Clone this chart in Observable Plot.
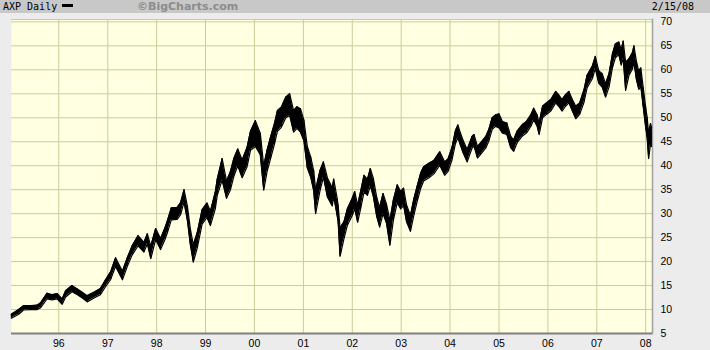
<!DOCTYPE html>
<html><head><meta charset="utf-8">
<script src="https://cdn.jsdelivr.net/npm/d3@7"></script>
<script src="https://cdn.jsdelivr.net/npm/@observablehq/plot@0.6"></script>
<style>
body{margin:0;background:#ececec;width:710px;height:350px;overflow:hidden}
#hdr{position:relative;height:13px;background:#c8c8c8;}
#hdr span{position:absolute;top:0;line-height:13px;white-space:nowrap}
#t1{left:3px;font-family:"DejaVu Sans Mono",monospace;font-size:10px;color:#000}
#sw{left:62px;top:4px !important;width:11px;height:3px;background:#000}
#bc{left:137px;font-family:"DejaVu Sans",sans-serif;font-weight:bold;font-size:11px;color:#8c8c8c}
#dt{right:16px;font-family:"DejaVu Sans Mono",monospace;font-size:10px;color:#000}
#chart svg{display:block}
</style></head><body>
<div id="hdr"><span id="t1">AXP Daily</span><span id="sw"></span><span id="bc">©BigCharts.com</span><span id="dt">2/15/08</span></div>
<div id="chart"></div>
<script>
const years = [
1995.03,1995.18,1995.28,1995.42,1995.56,1995.63,1995.76,1995.86,1995.97,
1996.07,1996.14,1996.27,1996.38,1996.48,1996.58,1996.72,1996.85,1996.95,
1997.06,1997.16,1997.30,1997.40,1997.50,1997.62,1997.74,1997.81,1997.88,1997.98,
1998.08,1998.17,1998.22,1998.30,1998.42,1998.49,1998.56,1998.63,1998.69,1998.75,1998.83,1998.93,
1999.03,1999.10,1999.20,1999.24,1999.34,1999.43,1999.51,1999.58,1999.66,1999.75,1999.85,1999.92,
2000.02,2000.12,2000.19,2000.26,2000.33,2000.41,2000.47,2000.55,2000.64,2000.72,2000.80,2000.87,2000.94,
2001.01,2001.08,2001.15,2001.21,2001.25,2001.34,2001.41,2001.49,2001.59,2001.62,2001.69,2001.71,2001.75,2001.83,2001.90,
2002.00,2002.05,2002.11,2002.17,2002.24,2002.31,2002.37,2002.43,2002.50,2002.56,2002.63,2002.70,2002.77,2002.84,2002.92,2002.99,
2003.05,2003.11,2003.19,2003.26,2003.33,2003.40,2003.46,2003.57,2003.67,2003.79,2003.89,2003.96,
2004.04,2004.11,2004.16,2004.21,2004.27,2004.35,2004.45,2004.49,2004.56,2004.62,2004.73,2004.79,2004.86,2004.93,
2005.00,2005.07,2005.16,2005.24,2005.30,2005.37,2005.48,2005.56,2005.65,2005.71,2005.78,2005.82,2005.89,2005.97,
2006.06,2006.16,2006.22,2006.29,2006.36,2006.43,2006.50,2006.57,2006.65,2006.74,2006.80,2006.91,2006.97,
2007.04,2007.11,2007.18,2007.25,2007.32,2007.38,2007.45,2007.50,2007.54,2007.59,2007.66,2007.73,2007.76,2007.81,2007.86,2007.90,2007.95,
2008.00,2008.03,2008.06,2008.10,2008.12];
const mid = [
8.6,9.5,10.3,10.4,10.4,10.9,12.8,12.5,12.8,
11.6,13.3,14.4,13.7,13.0,12.3,13.0,13.7,15.4,
17.1,19.9,17.1,19.9,22.4,24.4,23.0,24.8,22.2,25.8,
23.6,25.8,27.2,30.0,30.0,31.0,33.8,30.0,25.1,21.7,24.4,29.3,
30.7,29.0,32.8,35.5,39.0,34.9,36.9,39.7,41.8,39.4,41.8,45.3,
46.3,44.6,37.6,41.1,43.9,46.7,49.4,50.1,52.2,52.9,49.4,50.1,49.4,
47.4,41.8,39.7,36.9,32.8,36.9,39.7,35.5,33.5,35.5,31.4,30.0,25.1,26.5,29.3,
31.4,32.8,30.0,32.8,36.3,35.5,37.6,35.5,31.4,29.3,32.1,30.0,26.5,30.7,34.2,32.8,
33.5,30.0,27.9,31.4,34.2,36.9,38.3,39.0,39.7,41.5,39.4,40.1,
42.5,46.0,47.2,45.6,43.9,42.1,44.9,45.3,42.8,43.5,44.9,46.3,48.8,49.4,
49.1,48.0,47.7,44.9,44.2,46.0,47.4,48.0,49.4,50.8,49.4,47.7,51.2,51.9,
52.6,54.3,53.6,52.6,53.6,54.3,52.6,51.2,51.9,54.6,57.5,59.5,61.7,
58.5,57.8,55.7,57.8,61.9,64.0,64.7,62.6,64.0,59.9,60.6,61.9,63.3,59.9,57.8,58.5,54.3,
50.1,48.0,44.6,46.7,46.0];
const low = [
8.2,9.0,9.9,10.0,10.0,10.4,12.2,12.0,12.2,
11.1,12.6,13.7,13.1,12.4,11.6,12.4,13.1,14.7,
16.3,19.0,16.2,19.0,21.4,23.3,22.0,23.7,20.6,24.6,
22.5,24.6,26.0,28.7,28.8,29.8,32.4,28.5,23.5,19.9,22.8,27.8,
29.2,27.5,31.0,33.8,37.0,33.2,35.0,37.8,40.0,37.5,39.8,43.2,
44.0,42.3,34.9,38.8,41.5,44.5,47.2,48.0,50.0,50.5,47.0,47.8,47.0,
45.2,39.5,37.6,34.8,30.0,34.8,37.6,33.5,31.6,33.6,29.6,28.3,21.1,24.8,27.6,
29.6,31.0,28.2,31.0,34.5,33.8,35.8,33.6,29.4,27.2,30.0,28.0,23.4,28.6,32.3,31.0,
31.7,28.3,26.3,29.7,32.6,35.3,36.8,37.5,38.3,40.1,38.0,38.8,
41.2,44.6,45.9,44.3,42.6,40.8,43.7,44.1,41.6,42.3,43.7,45.1,47.6,48.2,
47.9,46.8,46.5,43.7,43.0,44.8,46.2,46.8,48.2,49.6,48.2,46.5,50.0,50.7,
51.4,53.1,52.4,51.4,52.4,53.1,51.4,49.8,50.7,53.3,56.2,58.2,60.3,
57.2,56.4,54.3,56.4,60.4,62.5,63.2,61.0,62.4,55.7,58.9,60.2,61.6,58.0,55.9,56.6,52.3,
48.0,45.9,41.5,44.6,44.0];
const high = [
9.0,10.0,10.8,10.8,10.9,11.4,13.4,13.1,13.3,
12.2,13.9,15.0,14.3,13.6,12.9,13.6,14.4,16.1,
17.9,20.8,18.0,20.8,23.3,25.4,24.0,25.8,23.2,26.9,
24.8,27.0,28.5,31.2,31.3,32.3,35.0,31.5,26.8,23.5,26.0,30.8,
32.2,30.5,34.5,37.2,41.5,36.8,38.8,41.5,43.5,41.2,43.8,47.2,
49.4,46.8,40.0,43.3,46.0,48.8,51.5,52.2,54.3,55.0,51.5,52.3,51.9,
49.5,44.0,41.8,39.0,35.0,39.0,40.8,37.5,35.4,37.2,33.2,31.8,27.0,28.3,31.0,
33.2,34.6,31.8,34.6,38.0,37.2,39.4,37.4,33.4,31.3,34.2,32.0,28.6,32.8,36.0,34.6,
35.3,31.8,29.6,33.1,35.8,38.5,39.8,40.5,41.1,42.9,40.8,41.4,
43.8,47.3,48.5,46.9,45.2,43.4,46.1,46.5,44.0,44.7,46.1,47.5,50.0,50.6,
50.8,49.2,48.9,46.1,45.4,47.2,48.6,49.2,50.6,52.0,50.6,48.9,52.4,53.1,
53.8,55.5,54.8,53.8,54.8,55.5,53.8,52.4,53.1,55.9,58.8,60.8,62.8,
59.8,59.2,57.1,59.2,63.3,65.4,65.8,64.2,66.0,61.6,62.3,63.6,65.0,61.8,59.7,60.4,56.3,
52.2,50.1,46.8,48.8,48.0];
const yTicks = [5,10,15,20,25,30,35,40,45,50,55,60,65,70];
const xYears = [1996,1997,1998,1999,2000,2001,2002,2003,2004,2005,2006,2007,2008];
const xLabels = ["96","97","98","99","00","01","02","03","04","05","06","07","08"];

function toDate(y){const Y=Math.floor(y);const a=Date.UTC(Y,0,1),b=Date.UTC(Y+1,0,1);return new Date(a+(y-Y)*(b-a));}
const data = years.map((y,i)=>({date:toDate(y),mid:mid[i],lo:low[i],hi:high[i]}));
const yearDates = xYears.map(y=>new Date(Date.UTC(y,0,1)));
const grid = "#cccc99";

const chart = Plot.plot({
  width:710, height:337,
  marginLeft:11, marginRight:58, marginTop:6, marginBottom:17,
  style:{fontFamily:"'Liberation Sans', Arial, sans-serif", fontSize:"10.5px", color:"#000", background:"transparent"},
  x:{type:"utc", domain:[new Date(Date.UTC(1995,0,13)), new Date(Date.UTC(2008,1,21))]},
  y:{domain:[5,70.5]},
  marks:[
    Plot.frame({fill:"#ffffe2", stroke:null}),
    Plot.ruleY(yTicks.filter(v=>v>5), {stroke:grid, strokeWidth:1}),
    Plot.ruleX(yearDates, {stroke:grid, strokeWidth:1}),
    Plot.frame({anchor:"top", stroke:grid}),
    Plot.frame({anchor:"right", stroke:"#a0a0a0", strokeWidth:1.5}),
    Plot.areaY(data, {x:"date", y1:"lo", y2:"hi", fill:"#000"}),
    Plot.lineY(data, {x:"date", y:"lo", stroke:"#000", strokeWidth:1.2}),
    Plot.lineY(data, {x:"date", y:"hi", stroke:"#000", strokeWidth:1.2}),
    Plot.lineY(data, {x:"date", y:"mid", stroke:"#000", strokeWidth:1}),
    Plot.ruleX(data, {x:"date", y1:"lo", y2:"hi", stroke:"#000", strokeWidth:1}),
    Plot.ruleY([5], {stroke:"#808080", strokeWidth:2}),
    Plot.axisY(yTicks, {anchor:"right", tickSize:0, tickPadding:8, label:null}),
    Plot.axisX(yearDates, {anchor:"bottom", tickSize:0, tickPadding:6, label:null,
      tickFormat:d=>xLabels[xYears.indexOf(d.getUTCFullYear())]})
  ]
});
document.getElementById("chart").appendChild(chart);
</script>
</body></html>
